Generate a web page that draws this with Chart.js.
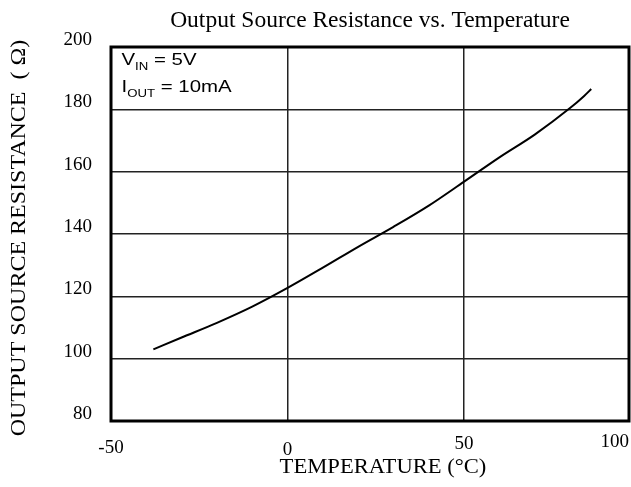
<!DOCTYPE html>
<html>
<head>
<meta charset="utf-8">
<script src="https://cdn.jsdelivr.net/npm/chart.js@4/dist/chart.umd.min.js"></script>
<style>
html,body{margin:0;padding:0;background:#fff;overflow:hidden;}
#wrap{width:631px;height:487px;}
</style>
</head>
<body>
<div id="wrap"><canvas id="c" width="631" height="487"></canvas></div>
<script>
// ---- data ----
const temperature = [-38, -30, -20, -10, 0, 10, 20, 30, 40, 50, 60, 70, 80, 84, 86];
const resistance  = [103.0, 106.8, 111.5, 116.7, 122.7, 129.2, 135.9, 142.3, 149.1, 156.8, 164.6, 171.9, 180.4, 184.3, 186.5];
const xTickValues = [-50, 0, 50, 100];
const xTickLabels = ['-50', '0', '50', '100'];
const yTickValues = [80, 100, 120, 140, 160, 180, 200];
const chartTitle = 'Output Source Resistance vs. Temperature';
const xTitle = 'TEMPERATURE (°C)';
const yTitle = 'OUTPUT SOURCE RESISTANCE  ( Ω)';
const noteLines = [
  {main: 'V', sub: 'IN', rest: ' = 5V'},
  {main: 'I', sub: 'OUT', rest: ' = 10mA'}
];

const SERIF = '"Liberation Serif", "Times New Roman", serif';
const SANS = '"Liberation Sans", Arial, sans-serif';

const textPlugin = {
  id: 'texts',
  afterDraw(chart) {
    const {ctx, chartArea: a, scales: {x}} = chart;
    ctx.save();
    // frame
    ctx.strokeStyle = '#000';
    ctx.lineWidth = 3;
    ctx.strokeRect(a.left, a.top, a.right - a.left, a.bottom - a.top);
    ctx.fillStyle = '#000';
    // title
    ctx.font = '23.5px ' + SERIF;
    ctx.textAlign = 'center';
    ctx.textBaseline = 'alphabetic';
    ctx.fillText(chartTitle, (a.left + a.right) / 2, 26.5);
    // x tick labels
    const xBase = [453, 455, 449, 447];
    ctx.font = '19px ' + SERIF;
    xTickValues.forEach((v, i) => {
      const lbl = xTickLabels[i];
      const w = ctx.measureText(lbl).width;
      let px = x.getPixelForValue(v);
      if (px + w / 2 > a.right) px = a.right - w / 2;
      ctx.fillText(lbl, px, xBase[i]);
    });
    // x title
    ctx.save();
    ctx.translate((a.left + a.right) / 2 + 13, 473);
    ctx.scale(1.13, 1);
    ctx.font = '20px ' + SERIF;
    ctx.fillText(xTitle, 0, 0);
    ctx.restore();
    // y title
    ctx.save();
    ctx.translate(25, (a.top + a.bottom) / 2 + 4);
    ctx.rotate(-Math.PI / 2);
    ctx.scale(1.2, 1);
    ctx.font = '20px ' + SERIF;
    ctx.textAlign = 'center';
    ctx.fillText(yTitle, 0, 0);
    ctx.restore();
    // note
    ctx.textAlign = 'left';
    const bases = [65, 91.5];
    noteLines.forEach((ln, i) => {
      ctx.save();
      ctx.translate(a.left + 10.5, bases[i]);
      ctx.scale(1.2, 1);
      ctx.font = '17px ' + SANS;
      let cx = 0;
      ctx.fillText(ln.main, cx, 0);
      cx += ctx.measureText(ln.main).width;
      ctx.font = '11px ' + SANS;
      ctx.fillText(ln.sub, cx, 5);
      cx += ctx.measureText(ln.sub).width;
      ctx.font = '17px ' + SANS;
      ctx.fillText(ln.rest, cx, 0);
      ctx.restore();
    });
    ctx.restore();
  }
};

new Chart(document.getElementById('c'), {
  type: 'scatter',
  data: {
    datasets: [{
      data: temperature.map((t, i) => ({x: t, y: resistance[i]})),
      showLine: true,
      borderColor: '#000',
      borderWidth: 2,
      pointRadius: 0,
      cubicInterpolationMode: 'monotone',
      fill: false
    }]
  },
  options: {
    responsive: false,
    animation: false,
    events: [],
    layout: {padding: {top: 47, right: 2, left: 0, bottom: 0}},
    plugins: {legend: {display: false}, tooltip: {enabled: false}, title: {display: false}},
    scales: {
      x: {
        type: 'linear',
        min: -50,
        max: 96.7,
        afterBuildTicks: (s) => { s.ticks = xTickValues.filter(v => v <= s.max).map(v => ({value: v})); },
        afterFit: (s) => { s.height = 66; },
        grid: {color: '#222', lineWidth: 1.5, drawTicks: false},
        border: {display: false},
        ticks: {display: false}
      },
      y: {
        type: 'linear',
        min: 80,
        max: 200,
        afterBuildTicks: (s) => { s.ticks = yTickValues.map(v => ({value: v})); },
        afterFit: (s) => { s.width = 111; },
        grid: {color: '#222', lineWidth: 1.5, drawTicks: false},
        border: {display: false},
        ticks: {
          color: '#000',
          font: {family: SERIF, size: 19},
          padding: 19,
          labelOffset: -7
        }
      }
    }
  },
  plugins: [textPlugin]
});
</script>
</body>
</html>
